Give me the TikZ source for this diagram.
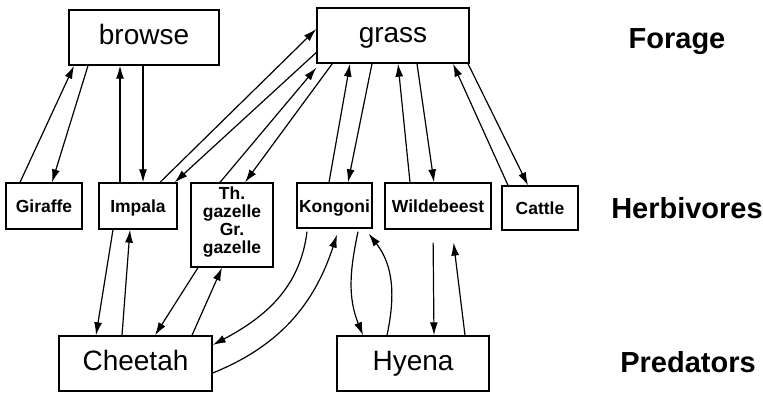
\documentclass[tikz,border=0pt]{standalone}
\usepackage{fontspec}
\setmainfont{Liberation Sans}
\usetikzlibrary{arrows.meta}

\tikzset{
  forage/.style={draw, line width=1.4pt, minimum width=150pt, minimum height=55pt,
    inner sep=0pt, text height=14pt, text depth=0pt, font=\fontsize{28}{30}\selectfont},
  herb/.style={draw, line width=1.3pt, inner sep=0pt, align=center,
    font=\bfseries\fontsize{17.5}{18}\selectfont},
  herbline/.style={herb, text height=13pt, text depth=0pt},
  level/.style={font=\bfseries\fontsize{29}{31}\selectfont},
  feed/.style={->, line width=1.2pt, >={Latex[length=13pt,width=8pt]}}
}

\begin{document}
\begin{tikzpicture}[x=1pt,y=-1pt]

\useasboundingbox (0,0) rectangle (763,393);

% forage
\node[forage] (browse) at (144,37.5) {browse};
\node[forage, minimum width=152pt] (grass) at (393,35.5) {grass};

% herbivores
\node[herbline, minimum width=76pt, minimum height=46pt] (giraffe) at (44,206) {Giraffe};
\node[herbline, minimum width=78pt, minimum height=46pt] (impala) at (138,206) {Impala};
\node[herb, minimum width=82pt, minimum height=84pt, text depth=10pt] (gazelle) at (232,225) {Th.\\gazelle\\Gr.\\gazelle};
\node[herbline, minimum width=75pt, minimum height=45pt] (kongoni) at (334.5,205.5) {Kongoni};
\node[herbline, minimum width=106pt, minimum height=46pt] (wildebeest) at (438,206) {Wildebeest};
\node[herbline, minimum width=76pt, minimum height=44pt] (cattle) at (540,208) {Cattle};

% predators
\node[forage, minimum width=153pt] (cheetah) at (135.5,363.5) {Cheetah};
\node[forage, minimum width=152pt] (hyena) at (413,363.5) {Hyena};

% levels
\node[level] (lforage) at (677,42) {Forage};
\node[level] (lherb) at (687,208) {Herbivores};
\node[level] (lpred) at (688,362) {Predators};

% herbivores <-> forage
\draw [feed] ([xshift=-24pt]giraffe.north) -- ([xshift=-70pt]browse.south);
\draw [feed] ([xshift=-56pt]browse.south) -- ([xshift=8pt]giraffe.north);
\draw [feed] ([xshift=-18pt]impala.north) -- ([xshift=-24pt]browse.south);
\draw [feed] ([xshift=-1pt]browse.south) -- ([xshift=5pt]impala.north);
\draw [feed] ([xshift=22pt]impala.north) -- ([yshift=6.5pt]grass.west);
\draw [feed] ([yshift=-17pt]grass.west) -- ([xshift=-3pt]impala.north east);
\draw [feed] ([xshift=-12pt]gazelle.north) -- ([yshift=-4pt]grass.south west);
\draw [feed] ([xshift=16pt]grass.south west) -- ([xshift=13pt]gazelle.north);
\draw [feed] ([xshift=-5.5pt]kongoni.north) -- ([xshift=-43pt]grass.south);
\draw [feed] ([xshift=-21pt]grass.south) -- ([xshift=13.5pt]kongoni.north);
\draw [feed] ([xshift=-28pt]wildebeest.north) -- ([xshift=5pt]grass.south);
\draw [feed] ([xshift=24pt]grass.south) -- ([xshift=-4pt]wildebeest.north);
\draw [feed] ([xshift=-32pt]cattle.north) -- ([xshift=60pt]grass.south);
\draw [feed] ([xshift=75pt]grass.south) -- ([xshift=-12pt]cattle.north);

% predators <-> herbivores
\draw [feed] ([xshift=-25pt]impala.south) -- ([xshift=-39.5pt]cheetah.north);
\draw [feed] ([xshift=-13.5pt]cheetah.north) -- ([xshift=-8pt]impala.south);
\draw [feed] ([xshift=-34pt]gazelle.south) -- ([xshift=19.5pt]cheetah.north);
\draw [feed] ([xshift=56.5pt]cheetah.north) -- ([xshift=-10pt]gazelle.south);
\draw [feed] ([xshift=-27.5pt,yshift=-3pt]kongoni.south) to[out=-97, in=28] ([yshift=18.5pt]cheetah.east);
\draw [feed] ([yshift=-9.5pt]cheetah.east) to[out=22, in=-108] ([xshift=2.5pt,yshift=-6pt]kongoni.south);
\draw [feed] ([xshift=23.5pt,yshift=-3pt]kongoni.south) to[out=-102, in=112] ([xshift=-50pt]hyena.north);
\draw [feed] ([xshift=-26pt]hyena.north) to[out=78, in=-52] ([xshift=-4pt,yshift=-5pt]kongoni.south east);
\draw [feed, shorten <=13pt] ([xshift=-5pt]wildebeest.south) -- ([xshift=21pt]hyena.north);
\draw [feed, shorten >=13pt] ([xshift=52pt]hyena.north) -- ([xshift=14pt]wildebeest.south);

\end{tikzpicture}
\end{document}
